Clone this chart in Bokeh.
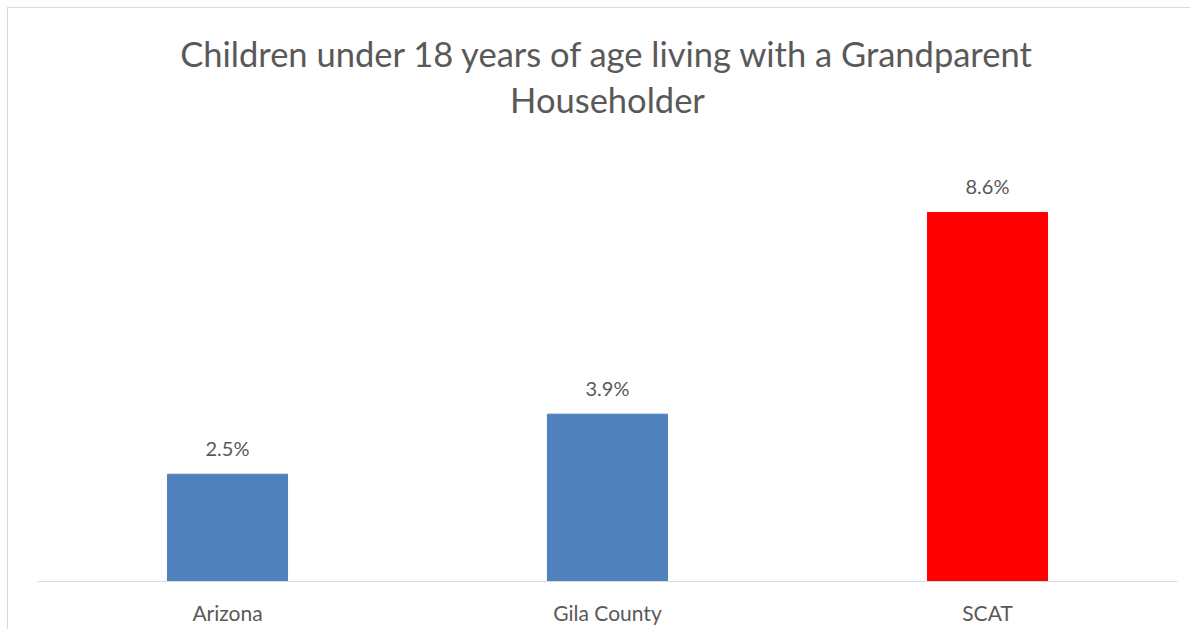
from bokeh.plotting import figure
from bokeh.models import ColumnDataSource, LabelSet, Label, FactorRange, Range1d
from bokeh.core.properties import value
from bokeh.embed import file_html
from bokeh.resources import INLINE

categories = ["Arizona", "Gila County", "SCAT"]
values = [2.5, 3.9, 8.6]
labels = ["2.5%", "3.9%", "8.6%"]
colors = ["#4F81BD", "#4F81BD", "#FF0000"]
title_line1 = "Children under 18 years of age living with a Grandparent"
title_line2 = "Householder"

FONT = "Lato"

src = ColumnDataSource(dict(cat=categories, val=values, lab=labels, col=colors))

p = figure(x_range=FactorRange(*categories, range_padding=0), y_range=Range1d(0, 13.33),
           width=1183, height=622, output_backend="svg", toolbar_location=None,
           min_border_left=29, min_border_right=14, min_border_top=1, min_border_bottom=49,
           title=None,
           styles={"border-left": "1px solid #d9d9d9", "border-top": "1px solid #d9d9d9",
                   "margin-left": "7px", "margin-top": "7px"})

p.vbar(x="cat", top="val", width=0.316, color="col", source=src)

p.add_layout(LabelSet(x="cat", y="val", text="lab", source=src, text_align="center",
                      text_baseline="bottom", y_offset=14, text_font=value(FONT),
                      text_font_size="20px", text_color="#595959"))

for txt, ypos in [(title_line1, 528), (title_line2, 482)]:
    p.add_layout(Label(text=txt, x=570, y=ypos, x_units="screen", y_units="screen",
                       text_align="center", text_baseline="middle", text_font=FONT,
                       text_font_size="34.5px", text_color="#595959"))

p.xaxis.axis_line_color = "#d9d9d9"
p.xaxis.axis_line_width = 1
p.xaxis.major_tick_line_color = None
p.xaxis.minor_tick_line_color = None
p.xaxis.major_label_text_font = FONT
p.xaxis.major_label_text_font_size = "21px"
p.xaxis.major_label_text_color = "#595959"
p.xaxis.major_label_standoff = 12
p.yaxis.visible = False
p.grid.visible = False
p.outline_line_color = None
p.background_fill_color = "white"
p.border_fill_color = "white"

open("out.html", "w").write(file_html(p, INLINE))
